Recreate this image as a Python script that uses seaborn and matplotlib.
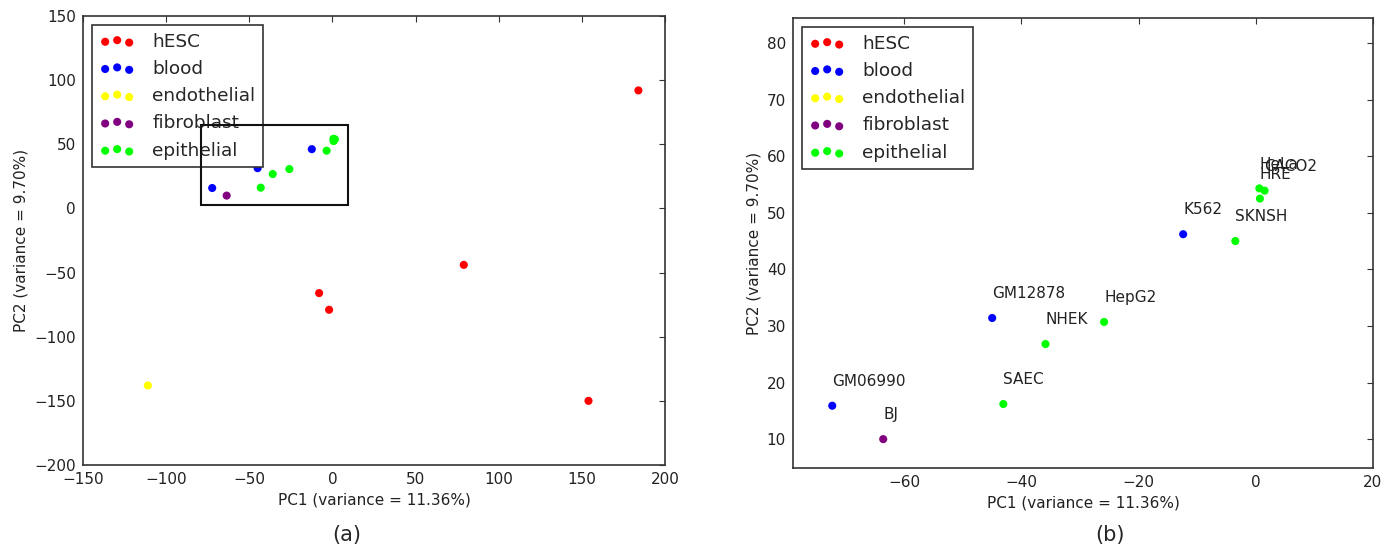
import matplotlib
matplotlib.use("Agg")
import matplotlib.pyplot as plt
import seaborn as sns
import pandas as pd
from matplotlib.patches import Rectangle

# ---- data ----
categories = ["hESC", "blood", "endothelial", "fibroblast", "epithelial"]
colors = ["#ff0000", "#0000ff", "#ffff00", "#800080", "#00ff00"]

names = ["H1", "H7", "H9", "HUES64", "HUES6", "HUVEC",
         "GM06990", "BJ", "GM12878", "SAEC", "NHEK", "HepG2",
         "K562", "SKNSH", "HeLa", "CACO2", "HRE"]
show_label = [False, False, False, False, False, False,
              True, True, True, True, True, True,
              True, True, True, True, True]
cell_type = ["hESC", "hESC", "hESC", "hESC", "hESC", "endothelial",
             "blood", "fibroblast", "blood", "epithelial", "epithelial", "epithelial",
             "blood", "epithelial", "epithelial", "epithelial", "epithelial"]
pc1 = [184, 79, -8, -2, 154, -111,
       -72.3, -63.6, -45.0, -43.1, -35.9, -25.9,
       -12.4, -3.5, 0.6, 1.5, 0.7]
pc2 = [92, -44, -66, -79, -150, -138,
       15.9, 10.0, 31.4, 16.2, 26.8, 30.7,
       46.2, 45.0, 54.3, 53.9, 52.5]

xlabel = "PC1 (variance = 11.36%)"
ylabel = "PC2 (variance = 9.70%)"

df = pd.DataFrame({"name": names, "type": cell_type, "PC1": pc1, "PC2": pc2})
palette = dict(zip(categories, colors))

sns.set_style("white")
plt.rcParams["font.family"] = ["DejaVu Sans"]
plt.rcParams["xtick.direction"] = "in"
plt.rcParams["ytick.direction"] = "in"

W, H = 1394, 550
fig = plt.figure(figsize=(W / 100, H / 100), dpi=100)
axA = fig.add_axes([83 / W, (H - 465) / H, (665 - 83) / W, (465 - 16) / H])
axB = fig.add_axes([793 / W, (H - 468) / H, (1373 - 793) / W, (468 - 18) / H])

for ax in (axA, axB):
    sns.scatterplot(data=df, x="PC1", y="PC2", hue="type", hue_order=categories,
                    palette=palette, s=34, linewidth=0, legend=False, ax=ax, zorder=3)
    for sp in ax.spines.values():
        sp.set_color("#333333")
        sp.set_linewidth(1.2)
    ax.tick_params(axis="both", which="both", direction="in", length=4, width=0.8,
                   top=True, right=True, labelsize=11, colors="#333333",
                   labelcolor="#222222", pad=5)
    ax.set_xlabel(xlabel, fontsize=11, color="#222222")
    ax.set_ylabel(ylabel, fontsize=11, color="#222222")
    handles = [ax.scatter([], [], color=c, s=34, linewidths=0) for c in colors]
    leg = ax.legend(handles, categories, loc="upper left", scatterpoints=3,
                    scatteryoffsets=[0.375, 0.5, 0.3125], fontsize=13.3,
                    frameon=True, fancybox=False, framealpha=1, edgecolor="#333333",
                    borderaxespad=0.5, labelspacing=0.5, handlelength=1.9,
                    handletextpad=0.95, borderpad=0.4)
    leg.get_frame().set_linewidth(1.2)
    leg.set_zorder(5)

# panel (a)
axA.set_xlim(-150, 200)
axA.set_ylim(-200, 150)
axA.set_xticks(range(-150, 201, 50))
axA.set_yticks(range(-200, 151, 50))
axA.add_patch(Rectangle((-79, 3), 88.5, 62, fill=False, edgecolor="#111111",
                        linewidth=1.5, zorder=6))

# panel (b)
axB.set_xlim(-79, 20)
axB.set_ylim(4.9, 84.4)
axB.set_xticks(range(-60, 21, 20))
axB.set_yticks(range(10, 81, 10))
for n, x, y, s in zip(names, pc1, pc2, show_label):
    if s:
        axB.text(x, y + 3.5, n, fontsize=11, ha="left", va="baseline",
                 color="#222222", clip_on=True)

fig.text(347 / W, 1 - 535 / H, "(a)", fontsize=15, ha="center", va="center")
fig.text(1110 / W, 1 - 535 / H, "(b)", fontsize=15, ha="center", va="center")

fig.savefig("out.png", dpi=100, facecolor="white")
